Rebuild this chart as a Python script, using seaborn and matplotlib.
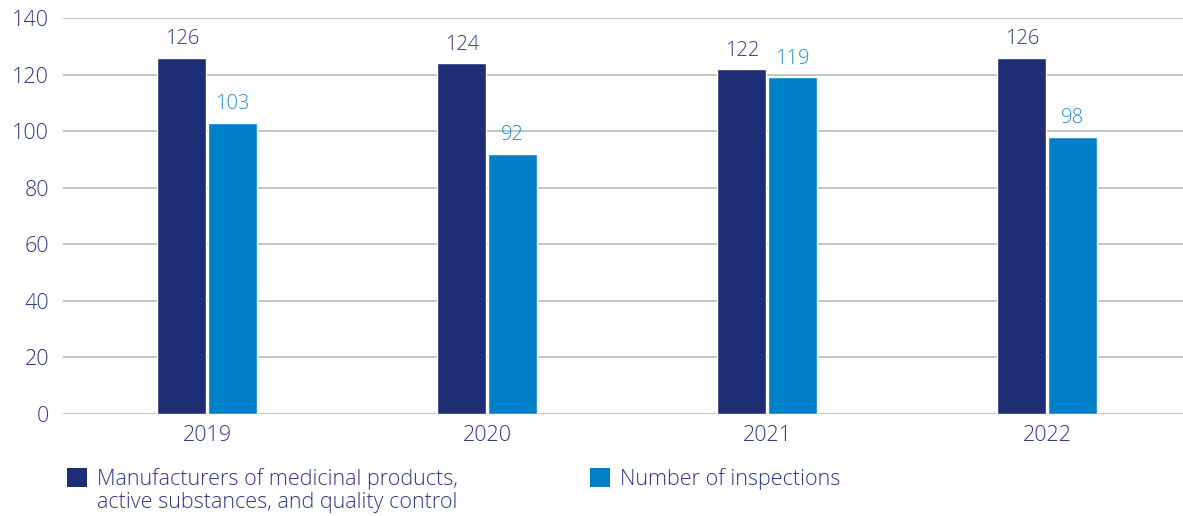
import matplotlib
matplotlib.use("Agg")
import matplotlib.pyplot as plt
import seaborn as sns
import pandas as pd
from matplotlib.patches import Patch

years = ["2019", "2020", "2021", "2022"]
manufacturers = [126, 124, 122, 126]
inspections = [103, 92, 119, 98]
series_names = [
    "Manufacturers of medicinal products,\nactive substances, and quality control",
    "Number of inspections",
]
y_ticks = [0, 20, 40, 60, 80, 100, 120, 140]

navy = "#1e2d74"
blue = "#0080c9"
text_navy = "#2b3a86"
label_blue = "#1f8fd3"
grid_grey = "#b4b4b4"

df = pd.DataFrame({
    "year": years * 2,
    "value": manufacturers + inspections,
    "series": [series_names[0]] * 4 + [series_names[1]] * 4,
})

sns.set_theme(style="white")
plt.rcParams["font.family"] = ["Open Sans", "DejaVu Sans"]
plt.rcParams["font.weight"] = "light"

fig = plt.figure(figsize=(11.83, 5.16), dpi=100)
ax = fig.add_axes([0.0533, 0.1977, 0.9467, 0.7674])

sns.barplot(data=df, x="year", y="value", hue="series",
            palette=[navy, blue], width=0.361, gap=0.03,
            saturation=1, ax=ax, legend=False, zorder=3)

ax.set_ylim(0, 140)
ax.set_xlim(-0.515, 3.485)
ax.set_yticks(y_ticks)
ax.yaxis.grid(True, color=grid_grey, linewidth=1.1, zorder=0)
ax.set_axisbelow(True)
for s in ax.spines.values():
    s.set_visible(False)
ax.set_xlabel("")
ax.set_ylabel("")
ax.tick_params(axis="both", length=0, colors=text_navy)
ax.tick_params(axis="y", pad=10, labelsize=15.5)
ax.tick_params(axis="x", pad=8, labelsize=15.5)

for cont, col in zip(ax.containers, [text_navy, label_blue]):
    ax.bar_label(cont, padding=6, fontsize=14.5, color=col)

h1 = [Patch(facecolor=navy, edgecolor="none")]
h2 = [Patch(facecolor=blue, edgecolor="none")]
kw = dict(frameon=False, fontsize=15.5, handlelength=0.95, handleheight=0.95,
          handletextpad=0.45, labelcolor=text_navy, borderpad=0, borderaxespad=0)
leg1 = fig.legend(h1, [series_names[0]], loc="upper left",
                  bbox_to_anchor=(67 / 1183, 1 - 468 / 516), **kw)
for t in leg1.get_texts():
    t.set_linespacing(1.12)
leg2 = fig.legend(h2, [series_names[1]], loc="upper left",
                  bbox_to_anchor=(590 / 1183, 1 - 468 / 516), **kw)

# keep each legend swatch level with the first line of its label
for leg in (leg1, leg2):
    for column in leg._legend_handle_box.get_children():
        for item in column.get_children():
            item.align = "top"

fig.savefig("out.png", dpi=100)
